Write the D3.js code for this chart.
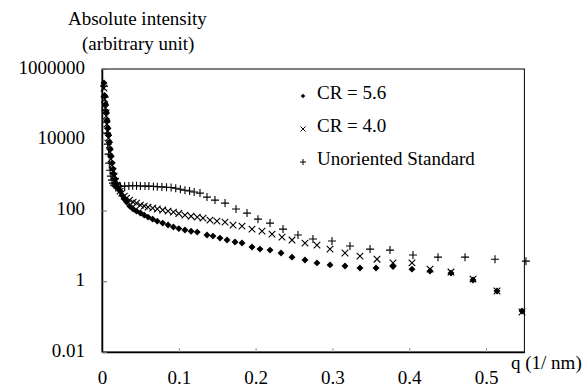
<!DOCTYPE html>
<html>
<head>
<meta charset="utf-8">
<script src="https://cdn.jsdelivr.net/npm/d3@7"></script>
<style>
	body { margin: 0; background: #fff; }
	text { font-family: "Liberation Serif", "Times New Roman", serif; fill: #000; }
</style>
</head>
<body>
<div id="chart-area"></div>
<script>

// SVG Size
var width = 588,
	height = 387;

// data: [q (1/nm), intensity]
var cr56 = [
	[0.0026, 400000], [0.0035, 178000], [0.0045, 101000], [0.0055, 60000], [0.0065, 35800],
	[0.0075, 21300], [0.0085, 13500], [0.0095, 8560], [0.0105, 5420], [0.0117, 3440],
	[0.013, 2180], [0.0143, 1480], [0.0156, 1070], [0.0175, 771], [0.0195, 557],
	[0.0215, 430], [0.0235, 353], [0.026, 272], [0.029, 210], [0.032, 173],
	[0.036, 133], [0.0405, 110], [0.045, 96], [0.050, 84.5], [0.055, 74],
	[0.060, 65], [0.066, 57], [0.072, 50], [0.079, 44], [0.086, 38.7],
	[0.093, 34], [0.100, 30.8], [0.108, 28], [0.116, 26], [0.124, 24.5],
	[0.1367, 20.2], [0.1445, 18.9], [0.1536, 16.6], [0.1628, 14.6], [0.1732, 12.8],
	[0.1823, 12], [0.1953, 9.25], [0.2057, 8.1], [0.2188, 7.6], [0.2331, 6.3],
	[0.2474, 4.8], [0.2643, 4.0], [0.2799, 3.3], [0.2969, 2.9], [0.3164, 2.7],
	[0.3359, 2.36], [0.3568, 2.36], [0.3789, 2.6], [0.4036, 2.2], [0.4271, 1.94],
	[0.4544, 1.7], [0.4831, 1.08], [0.5143, 0.53], [0.5469, 0.144]
];

var cr40 = [
	[0.0026, 287000], [0.0035, 140000], [0.0045, 78100], [0.0055, 46400], [0.0065, 27600],
	[0.0075, 17500], [0.0085, 11100], [0.0095, 7040], [0.0105, 4460], [0.0117, 2830],
	[0.013, 1920], [0.0143, 1300], [0.0156, 937], [0.0175, 678], [0.0195, 522],
	[0.0215, 430], [0.0235, 353], [0.026, 310], [0.029, 255], [0.032, 224],
	[0.036, 197], [0.0405, 173], [0.045, 162], [0.050, 142], [0.055, 133],
	[0.060, 125], [0.066, 117], [0.072, 110], [0.079, 103], [0.086, 96],
	[0.093, 90], [0.100, 82], [0.108, 74], [0.116, 69], [0.124, 65],
	[0.1315, 61], [0.1406, 53.6], [0.1497, 50.2], [0.1602, 47], [0.1706, 38.7],
	[0.1823, 36.2], [0.1953, 29.8], [0.2083, 26.2], [0.2214, 21.5], [0.2344, 17.7],
	[0.2474, 14.6], [0.2643, 12], [0.2799, 10.5], [0.2969, 8.1], [0.3164, 6.3],
	[0.3359, 5.15], [0.3581, 4.2], [0.3789, 3.3], [0.4036, 3.3], [0.4271, 2.2],
	[0.4544, 1.82], [0.4831, 1.15], [0.5143, 0.53], [0.5469, 0.135]
];

var unoriented = [
	[0.0026, 326000], [0.0035, 160000], [0.0045, 68600], [0.0055, 31400], [0.0065, 15400],
	[0.0075, 7510], [0.0085, 3920], [0.0095, 2180], [0.0105, 1380], [0.0117, 937],
	[0.013, 722], [0.0143, 594], [0.0156, 522], [0.0175, 489], [0.0195, 475],
	[0.024, 480], [0.0295, 490], [0.035, 495], [0.040, 500], [0.045, 500],
	[0.050, 495], [0.056, 490], [0.061, 490], [0.067, 480], [0.072, 470],
	[0.078, 465], [0.084, 455], [0.090, 445], [0.096, 425], [0.102, 400],
	[0.108, 375], [0.114, 355], [0.120, 335], [0.1276, 310],
	[0.1367, 239], [0.1471, 197], [0.1602, 162], [0.1745, 110], [0.1888, 84.5],
	[0.2031, 57], [0.2188, 44], [0.2357, 29.8], [0.2552, 20.2], [0.2747, 15.6],
	[0.2995, 13.7], [0.3229, 9.9], [0.3490, 8.1], [0.3750, 7.6], [0.4049, 5.5],
	[0.4375, 4.8], [0.4727, 4.8], [0.5117, 4.2], [0.552, 3.7]
];

var seriesNames = ["CR = 5.6", "CR = 4.0", "Unoriented Standard"];
var yTicks = [0.01, 1, 100, 10000, 1000000];
var yTickLabels = ["0.01", "1", "100", "10000", "1000000"];
var xTicks = [0, 0.1, 0.2, 0.3, 0.4, 0.5];

var svg = d3.select("#chart-area")
	.append("svg")
	.attr("width", width)
	.attr("height", height);

svg.append("rect")
	.attr("width", width)
	.attr("height", height)
	.attr("fill", "#fff");

var plotLeft = 102, plotRight = 524.4, plotTop = 69, plotBottom = 352;

var x = d3.scaleLinear()
	.domain([0, 0.55])
	.range([plotLeft, plotRight]);

var y = d3.scaleLog()
	.domain([0.01, 1000000])
	.range([plotBottom, plotTop]);

// box
svg.append("rect")
	.attr("x", plotLeft)
	.attr("y", plotTop)
	.attr("width", plotRight - plotLeft)
	.attr("height", plotBottom - plotTop)
	.attr("fill", "none")
	.attr("stroke", "#000")
	.attr("stroke-width", 1);

// axes (ticks inside)
var xAxis = d3.axisBottom(x)
	.tickValues(xTicks)
	.tickSizeInner(-4)
	.tickSizeOuter(0)
	.tickFormat(function(d){ return d === 0 ? "0" : d3.format(".1f")(d); });

var gx = svg.append("g")
	.attr("transform", "translate(0," + plotBottom + ")")
	.call(xAxis);
gx.select(".domain").attr("stroke", "#000").attr("stroke-width", 1.5);
gx.selectAll(".tick line").attr("stroke", "#999");
gx.selectAll("text")
	.attr("y", 32)
	.attr("dy", null)
	.style("font-family", "Liberation Serif")
	.style("font-size", "19px");

var yAxis = d3.axisLeft(y)
	.tickValues(yTicks)
	.tickSizeInner(-5)
	.tickSizeOuter(0)
	.tickPadding(17)
	.tickFormat(function(d, i){ return yTickLabels[i]; });

var gy = svg.append("g")
	.attr("transform", "translate(" + plotLeft + ",0)")
	.call(yAxis);
gy.select(".domain").attr("stroke", "#000").attr("stroke-width", 1.5);
gy.selectAll(".tick line").attr("stroke", "#666");
gy.selectAll("text")
	.attr("dy", "0.22em")
	.style("font-family", "Liberation Serif")
	.style("font-size", "19px");

// axis titles
svg.append("text")
	.attr("x", 68)
	.attr("y", 25)
	.style("font-size", "19px")
	.text("Absolute intensity");

svg.append("text")
	.attr("x", 82)
	.attr("y", 50)
	.style("font-size", "19px")
	.text("(arbitrary unit)");

svg.append("text")
	.attr("x", 511)
	.attr("y", 369)
	.style("font-size", "19px")
	.text("q (1/ nm)");

// marker helpers
var diamond = d3.symbol().type(d3.symbolSquare).size(24);

function crossPath(s){
	return "M" + (-s) + "," + (-s) + "L" + s + "," + s + "M" + (-s) + "," + s + "L" + s + "," + (-s);
}
function plusPath(s){
	return "M" + (-s) + ",0L" + s + ",0M0," + (-s) + "L0," + s;
}

// Unoriented Standard: +
svg.append("g").selectAll("path")
	.data(unoriented)
	.enter()
	.append("path")
	.attr("d", plusPath(4))
	.attr("transform", function(d){ return "translate(" + x(d[0]) + "," + y(d[1]) + ")"; })
	.attr("stroke", "#000")
	.attr("stroke-width", 1.1)
	.attr("fill", "none");

// CR = 4.0: x
svg.append("g").selectAll("path")
	.data(cr40)
	.enter()
	.append("path")
	.attr("d", crossPath(3.3))
	.attr("transform", function(d){ return "translate(" + x(d[0]) + "," + y(d[1]) + ")"; })
	.attr("stroke", "#000")
	.attr("stroke-width", 1.1)
	.attr("fill", "none");

// CR = 5.6: diamonds
svg.append("g").selectAll("path")
	.data(cr56)
	.enter()
	.append("path")
	.attr("d", diamond)
	.attr("transform", function(d){ return "translate(" + x(d[0]) + "," + y(d[1]) + ") rotate(45)"; })
	.attr("fill", "#000");

// legend
var legendX = 303, legendTextX = 317;
var legendY = [92, 125, 158];

var legend = svg.append("g");

legend.append("path")
	.attr("d", d3.symbol().type(d3.symbolSquare).size(10))
	.attr("transform", "translate(" + legendX + "," + (legendY[0] + 4) + ") rotate(45)")
	.attr("fill", "#000");

legend.append("path")
	.attr("d", crossPath(2.5))
	.attr("transform", "translate(" + legendX + "," + (legendY[1] + 4) + ")")
	.attr("stroke", "#000")
	.attr("fill", "none");

legend.append("path")
	.attr("d", plusPath(3))
	.attr("transform", "translate(" + legendX + "," + (legendY[2] + 4) + ")")
	.attr("stroke", "#000")
	.attr("fill", "none");

legend.selectAll("text")
	.data(seriesNames)
	.enter()
	.append("text")
	.attr("x", legendTextX)
	.attr("y", function(d, i){ return legendY[i]; })
	.attr("dy", "0.35em")
	.style("font-size", "19px")
	.text(function(d){ return d; });

</script>
</body>
</html>
